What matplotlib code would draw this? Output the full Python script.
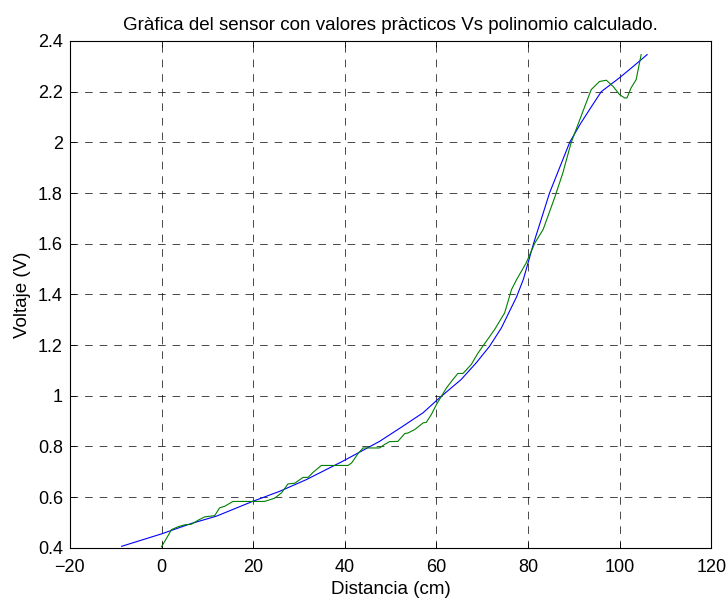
import matplotlib
matplotlib.use("Agg")
import matplotlib.pyplot as plt
from matplotlib.ticker import FuncFormatter

plt.rcParams['font.family'] = ['Liberation Sans', 'DejaVu Sans']
plt.rcParams['lines.scale_dashes'] = False

# Valores medidos del sensor (distancia en cm, voltaje en V)
dist_medida = [0, 2.2, 3.6, 5.1, 6.5, 8.0, 9.4, 11.6, 12.7, 13.8, 15.6, 22.5,
               24.7, 26.2, 27.6, 29.1, 30.9, 32.0, 33.1, 34.9, 40.7, 41.5,
               42.9, 44.0, 47.6, 48.7, 49.8, 51.6, 53.1, 53.8, 55.3, 57.1,
               57.8, 58.9, 60.0, 61.1, 62.2, 63.6, 64.7, 65.8, 67.6, 69.1,
               70.9, 72.7, 74.9, 76.4, 77.5, 79.6, 81.5, 83.3, 85.8, 87.6,
               89.4, 90.9, 92.4, 93.8, 95.6, 97.1, 98.6, 100.0, 101.1, 101.6,
               102.5, 103.6, 104.7]
volt_medido = [0.404, 0.472, 0.483, 0.491, 0.493, 0.509, 0.522, 0.527, 0.558,
               0.564, 0.583, 0.583, 0.596, 0.617, 0.652, 0.655, 0.678, 0.678,
               0.698, 0.725, 0.725, 0.735, 0.772, 0.794, 0.794, 0.808, 0.819,
               0.820, 0.851, 0.853, 0.867, 0.893, 0.895, 0.926, 0.965, 0.998,
               1.031, 1.064, 1.088, 1.088, 1.123, 1.169, 1.215, 1.261, 1.327,
               1.419, 1.458, 1.524, 1.603, 1.656, 1.781, 1.879, 1.998, 2.070,
               2.142, 2.208, 2.240, 2.245, 2.220, 2.188, 2.175, 2.175, 2.215,
               2.247, 2.346]

# Polinomio calculado evaluado en el rango de trabajo
dist_poli = [-8.7, 0, 6.5, 12.0, 20, 25.8, 31.6, 39.6, 47.6, 52.7, 57.1, 60.7,
             65.4, 68.7, 71.6, 74.2, 77.5, 79.0, 81.2, 84.7, 89.1, 91.5, 94.0,
             96.0, 100.0, 103.0, 106.0]
volt_poli = [0.406, 0.455, 0.496, 0.525, 0.584, 0.623, 0.669, 0.742, 0.820,
             0.880, 0.933, 0.992, 1.064, 1.130, 1.195, 1.268, 1.390, 1.460,
             1.600, 1.800, 2.000, 2.075, 2.145, 2.200, 2.255, 2.300, 2.346]

xticks = [-20, 0, 20, 40, 60, 80, 100, 120]
yticks = [0.4, 0.6, 0.8, 1.0, 1.2, 1.4, 1.6, 1.8, 2.0, 2.2, 2.4]

fig = plt.figure(figsize=(7.28, 6.02), dpi=100)
ax = fig.add_axes([0.096, 0.090, 0.881, 0.842])

ax.plot(dist_poli, volt_poli, color='#0000ff', lw=0.8)
ax.plot(dist_medida, volt_medido, color='#008000', lw=0.8)

ax.set_xlim(-20, 120)
ax.set_ylim(0.4, 2.4)
ax.set_xticks(xticks)
ax.set_yticks(yticks)
ax.yaxis.set_major_formatter(FuncFormatter(lambda v, p: '%g' % round(v, 2)))

ax.grid(True, color='k', linestyle=(0, (5.5, 5)), linewidth=0.5)
ax.tick_params(direction='in', top=True, right=True, labelsize=13,
               length=4, width=0.6)
ax.tick_params(axis='x', pad=8)
ax.tick_params(axis='y', pad=5)
for s in ax.spines.values():
    s.set_linewidth(0.8)

ax.set_title('Gràfica del sensor con valores pràcticos Vs polinomio calculado.',
             fontsize=13.5, pad=8)
ax.set_xlabel('Distancia (cm)', fontsize=13.5, labelpad=4)
ax.set_ylabel('Voltaje (V)', fontsize=13.5, labelpad=5)

fig.savefig('out.png', dpi=100)
